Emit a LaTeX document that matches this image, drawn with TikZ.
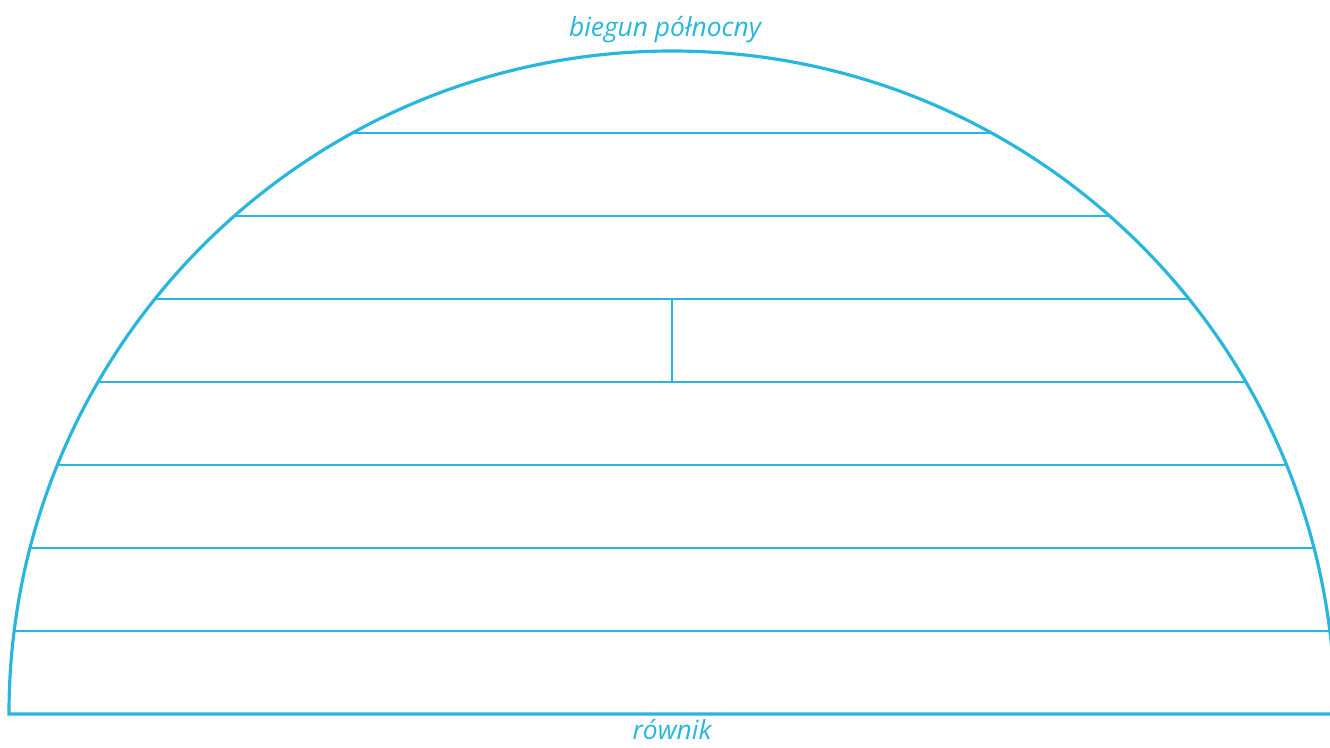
\documentclass[tikz,border=0pt]{standalone}
\usepackage{fontspec}
\setsansfont{Open Sans}
\definecolor{globeblue}{RGB}{40,182,220}
\tikzset{
    rim/.style={draw=globeblue, line width=1.8pt},
    band/.style={draw=globeblue, line width=1pt},
    caption/.style={anchor=base, inner sep=0pt, font=\sffamily\itshape\fontsize{15}{17}\selectfont, text=globeblue}
}
\begin{document}
\begin{tikzpicture}
        \useasboundingbox (-13.44,-0.66) rectangle (13.16,14.28);
        \clip (-13.44,-0.66) rectangle (13.16,14.28);
        \def\rad{13.26}
        % bands of the hemisphere
        \foreach \k in {1,...,7} {
            \pgfmathsetmacro{\h}{1.66*\k}
            \pgfmathsetmacro{\w}{sqrt(\rad*\rad-\h*\h)}
            \draw[band] (-\w,\h) -- (\w,\h);
        }
        \draw[band] (0,6.64) -- (0,8.3);
        \draw[rim] (\rad,0) arc[start angle=0, end angle=180, radius=\rad] -- cycle;
        \node[caption] (pole) at (-0.14,13.54) {biegun północny};
        \node[caption] (equator) at (0,-0.5) {równik};
    \end{tikzpicture}
\end{document}
